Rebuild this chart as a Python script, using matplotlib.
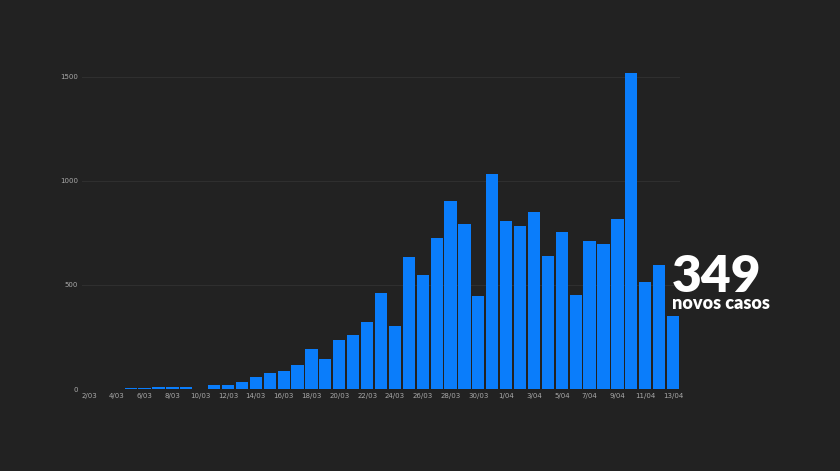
import matplotlib
matplotlib.use("Agg")
import matplotlib.pyplot as plt
import numpy as np

# novos casos diarios, 2/03 a 13/04
dias = ["%d/03" % d for d in range(2, 32)] + ["%d/04" % d for d in range(1, 14)]
novos = [2, 2, 2, 3, 4, 8, 9, 9, 2, 18, 19, 34, 57, 76, 86, 117, 194, 143,
         235, 260, 320, 460, 302, 633, 549, 724, 902, 792, 446, 1035,
         808, 783, 852, 638, 754, 452, 712, 699, 815, 1516, 515, 598, 349]
yticks = [0, 500, 1000, 1500]

bg = "#222222"
azul = "#0a7dfb"

W, H = 840, 471
fig = plt.figure(figsize=(W / 100, H / 100), dpi=100, facecolor=bg)
# axes placed in pixel coords: x 82..680, y 56..389
left, right, top, bottom = 82, 680, 56, 389
ax = fig.add_axes([left / W, 1 - bottom / H, (right - left) / W, (bottom - top) / H])
ax.set_facecolor(bg)

x = np.arange(len(novos))
ax.bar(x, novos, width=0.88, color=azul, zorder=3)
ax.set_xlim(-0.5, len(novos) - 0.5)
ax.set_ylim(0, 1600)

ax.set_yticks(yticks)
ax.set_yticklabels([str(v) for v in yticks])
ax.set_xticks(x[::2])
ax.set_xticklabels(dias[::2])
ax.tick_params(axis="both", length=0, colors="#a9a9a9", labelsize=5)
ax.tick_params(axis="y", pad=3)
ax.tick_params(axis="x", pad=3)
ax.grid(axis="y", color="#2f2f2f", linewidth=0.8, zorder=0)
for s in ax.spines.values():
    s.set_visible(False)

fig.text(672 / W, 1 - 292 / H, "349", color="white", fontsize=37,
         fontweight="heavy", family="Lato", ha="left", va="baseline")
fig.text(672 / W, 1 - 309 / H, "novos casos", color="white", fontsize=13,
         fontweight="heavy", family="Lato", ha="left", va="baseline")

fig.savefig("out.png", dpi=100, facecolor=bg)
